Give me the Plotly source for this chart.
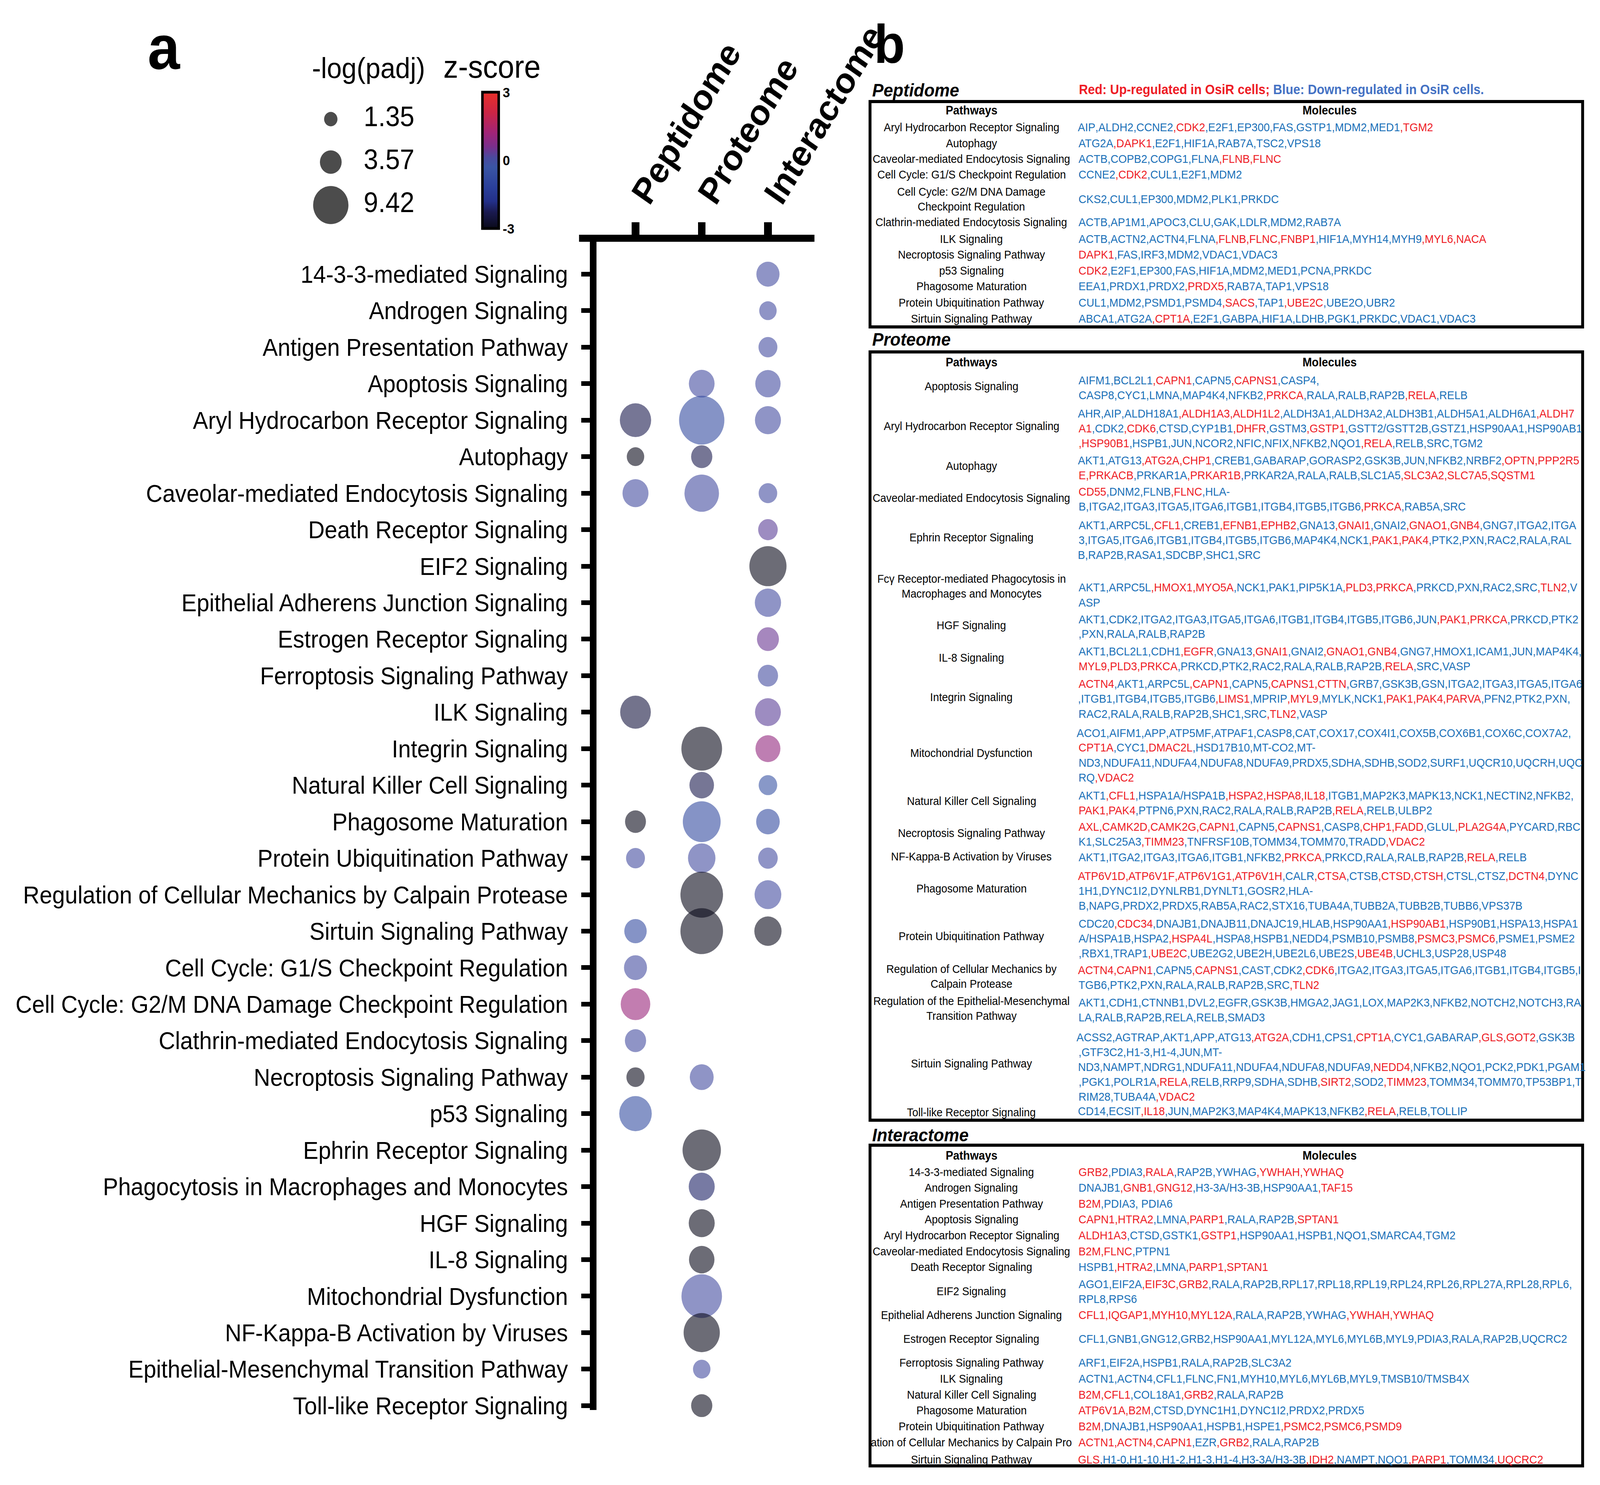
import plotly.graph_objects as go

W, H = 4421, 3802
FONT = "Liberation Sans, Arial, Helvetica, sans-serif"
RED, BLUE, LEGBLUE = "#EE1C25", "#1A70B8", "#4472C4"

# ------------------------------------------------------------------ panel a data
pathways = [
    "14-3-3-mediated Signaling",
    "Androgen Signaling",
    "Antigen Presentation Pathway",
    "Apoptosis Signaling",
    "Aryl Hydrocarbon Receptor Signaling",
    "Autophagy",
    "Caveolar-mediated Endocytosis Signaling",
    "Death Receptor Signaling",
    "EIF2 Signaling",
    "Epithelial Adherens Junction Signaling",
    "Estrogen Receptor Signaling",
    "Ferroptosis Signaling Pathway",
    "ILK Signaling",
    "Integrin Signaling",
    "Natural Killer Cell Signaling",
    "Phagosome Maturation",
    "Protein Ubiquitination Pathway",
    "Regulation of Cellular Mechanics by Calpain Protease",
    "Sirtuin Signaling Pathway",
    "Cell Cycle: G1/S Checkpoint Regulation",
    "Cell Cycle: G2/M DNA Damage Checkpoint Regulation",
    "Clathrin-mediated Endocytosis Signaling",
    "Necroptosis Signaling Pathway",
    "p53 Signaling",
    "Ephrin Receptor Signaling",
    "Phagocytosis in Macrophages and Monocytes",
    "HGF Signaling",
    "IL-8 Signaling",
    "Mitochondrial Dysfunction",
    "NF-Kappa-B Activation by Viruses",
    "Epithelial-Mesenchymal Transition Pathway",
    "Toll-like Receptor Signaling",
]
omics = ["Peptidome", "Proteome", "Interactome"]
N = None
pep_logp = [N, N, N, N, 7.4, 2.3, 5.1, N, N, N, N, N, 7.1, N, N, 3.3, 2.7, N, 3.8, 4.0,
            6.6, 3.4, 2.5, 8.0, N, N, N, N, N, N, N, N]
pep_z = [N, N, N, N, -2.3, -3, 0, N, N, N, N, N, -2.5, N, N, -3, 0, N, -0.7, 0,
         1.1, 0, -3, -0.6, N, N, N, N, N, N, N, N]
prot_logp = [N, N, N, 5.0, 15.5, 3.4, 9.0, N, N, N, N, N, N, 12.5, 4.55, 10.8, 5.7, 13.7, 13.7, N,
             N, N, 4.3, N, 11.1, 5.1, 5.1, 4.9, 12.4, 9.9, 2.3, 3.4]
prot_z = [N, N, N, 0, -0.7, -2.3, 0, N, N, N, N, N, N, -3, -2.3, -0.7, 0, -3, -3, N,
          N, N, 0, N, -3, -2.1, -3, -3, 0, -3, 0, -3]
int_logp = [4.05, 2.3, 2.7, 4.85, 5.1, N, 2.6, 2.9, 10.4, 5.2, 3.65, 3.1, 5.05, 4.7, 2.6, 4.2,
            2.9, 5.4, 5.6, N, N, N, N, N, N, N, N, N, N, N, N, N]
int_z = [0, 0, 0, 0, 0, N, 0, 0.3, -3, 0, 0.45, 0, 0.3, 1.0, -0.4, -0.7,
         0, 0, -3, N, N, N, N, N, N, N, N, N, N, N, N, N]

legend_vals = [1.35, 3.57, 9.42]
legend_labels = ["1.35", "3.57", "9.42"]
cbar_ticks = [-3, 0, 3]

# ------------------------------------------------------------------ panel b data
pep_paths = [
    "Aryl Hydrocarbon Receptor Signaling", "Autophagy",
    "Caveolar-mediated Endocytosis Signaling", "Cell Cycle: G1/S Checkpoint Regulation",
    "Cell Cycle: G2/M DNA Damage\nCheckpoint Regulation",
    "Clathrin-mediated Endocytosis Signaling", "ILK Signaling",
    "Necroptosis Signaling Pathway", "p53 Signaling", "Phagosome Maturation",
    "Protein Ubiquitination Pathway", "Sirtuin Signaling Pathway",
]
pep_mols = [
    ["AIP,ALDH2,CCNE2,*CDK2,E2F1,EP300,FAS,GSTP1,MDM2,MED1,*TGM2"],
    ["ATG2A,*DAPK1,E2F1,HIF1A,RAB7A,TSC2,VPS18"],
    ["ACTB,COPB2,COPG1,FLNA,*FLNB,*FLNC"],
    ["CCNE2,*CDK2,CUL1,E2F1,MDM2"],
    ["CKS2,CUL1,EP300,MDM2,PLK1,PRKDC"],
    ["ACTB,AP1M1,APOC3,CLU,GAK,LDLR,MDM2,RAB7A"],
    ["ACTB,ACTN2,ACTN4,FLNA,*FLNB,*FLNC,*FNBP1,HIF1A,MYH14,MYH9,*MYL6,*NACA"],
    ["*DAPK1,FAS,IRF3,MDM2,VDAC1,VDAC3"],
    ["*CDK2,E2F1,EP300,FAS,HIF1A,MDM2,MED1,PCNA,PRKDC"],
    ["EEA1,PRDX1,PRDX2,*PRDX5,RAB7A,TAP1,VPS18"],
    ["CUL1,MDM2,PSMD1,PSMD4,*SACS,TAP1,*UBE2C,UBE2O,UBR2"],
    ["ABCA1,ATG2A,*CPT1A,E2F1,GABPA,HIF1A,LDHB,PGK1,PRKDC,VDAC1,VDAC3"],
]
prot_paths = [
    "Apoptosis Signaling", "Aryl Hydrocarbon Receptor Signaling", "Autophagy",
    "Caveolar-mediated Endocytosis Signaling", "Ephrin Receptor Signaling",
    "Fcγ Receptor-mediated Phagocytosis in\nMacrophages and Monocytes",
    "HGF Signaling", "IL-8 Signaling", "Integrin Signaling", "Mitochondrial Dysfunction",
    "Natural Killer Cell Signaling", "Necroptosis Signaling Pathway",
    "NF-Kappa-B Activation by Viruses", "Phagosome Maturation",
    "Protein Ubiquitination Pathway", "Regulation of Cellular Mechanics by\nCalpain Protease",
    "Regulation of the Epithelial-Mesenchymal\nTransition Pathway",
    "Sirtuin Signaling Pathway", "Toll-like Receptor Signaling",
]
prot_mols = [
    ["AIFM1,BCL2L1,*CAPN1,CAPN5,*CAPNS1,CASP4,",
     "CASP8,CYC1,LMNA,MAP4K4,NFKB2,*PRKCA,RALA,RALB,RAP2B,*RELA,RELB"],
    ["AHR,AIP,ALDH18A1,*ALDH1A3,*ALDH1L2,ALDH3A1,ALDH3A2,ALDH3B1,ALDH5A1,ALDH6A1,*ALDH7",
     "*A1,CDK2,*CDK6,CTSD,CYP1B1,*DHFR,GSTM3,*GSTP1,GSTT2/GSTT2B,GSTZ1,HSP90AA1,HSP90AB1",
     ",*HSP90B1,HSPB1,JUN,NCOR2,NFIC,NFIX,NFKB2,NQO1,*RELA,RELB,SRC,TGM2"],
    ["AKT1,ATG13,*ATG2A,*CHP1,CREB1,GABARAP,GORASP2,GSK3B,JUN,NFKB2,NRBF2,*OPTN,*PPP2R5",
     "*E,*PRKACB,PRKAR1A,*PRKAR1B,PRKAR2A,RALA,RALB,SLC1A5,*SLC3A2,*SLC7A5,*SQSTM1"],
    ["*CD55,DNM2,FLNB,*FLNC,HLA-",
     "B,ITGA2,ITGA3,ITGA5,ITGA6,ITGB1,ITGB4,ITGB5,ITGB6,*PRKCA,RAB5A,SRC"],
    ["AKT1,ARPC5L,*CFL1,CREB1,*EFNB1,*EPHB2,GNA13,*GNAI1,GNAI2,*GNAO1,*GNB4,GNG7,ITGA2,ITGA",
     "3,ITGA5,ITGA6,ITGB1,ITGB4,ITGB5,ITGB6,MAP4K4,NCK1,*PAK1,*PAK4,PTK2,PXN,RAC2,RALA,RAL",
     "B,RAP2B,RASA1,SDCBP,SHC1,SRC"],
    ["AKT1,ARPC5L,*HMOX1,*MYO5A,NCK1,PAK1,PIP5K1A,*PLD3,*PRKCA,PRKCD,PXN,RAC2,SRC,*TLN2,V",
     "ASP"],
    ["AKT1,CDK2,ITGA2,ITGA3,ITGA5,ITGA6,ITGB1,ITGB4,ITGB5,ITGB6,JUN,*PAK1,*PRKCA,PRKCD,PTK2",
     ",PXN,RALA,RALB,RAP2B"],
    ["AKT1,BCL2L1,CDH1,*EGFR,GNA13,*GNAI1,GNAI2,*GNAO1,*GNB4,GNG7,HMOX1,ICAM1,JUN,MAP4K4,",
     "*MYL9,*PLD3,*PRKCA,PRKCD,PTK2,RAC2,RALA,RALB,RAP2B,*RELA,SRC,VASP"],
    ["*ACTN4,AKT1,ARPC5L,*CAPN1,CAPN5,*CAPNS1,*CTTN,GRB7,GSK3B,GSN,ITGA2,ITGA3,ITGA5,ITGA6",
     ",ITGB1,ITGB4,ITGB5,ITGB6,*LIMS1,MPRIP,*MYL9,MYLK,NCK1,*PAK1,*PAK4,*PARVA,PFN2,PTK2,PXN,",
     "RAC2,RALA,RALB,RAP2B,SHC1,SRC,*TLN2,VASP"],
    ["ACO1,AIFM1,APP,ATP5MF,ATPAF1,CASP8,CAT,COX17,COX4I1,COX5B,COX6B1,COX6C,COX7A2,",
     "*CPT1A,CYC1,*DMAC2L,HSD17B10,MT-CO2,MT-",
     "ND3,NDUFA11,NDUFA4,NDUFA8,NDUFA9,PRDX5,SDHA,SDHB,SOD2,SURF1,UQCR10,UQCRH,UQC",
     "RQ,*VDAC2"],
    ["AKT1,*CFL1,HSPA1A/HSPA1B,*HSPA2,*HSPA8,*IL18,ITGB1,MAP2K3,MAPK13,NCK1,NECTIN2,NFKB2,",
     "*PAK1,*PAK4,PTPN6,PXN,RAC2,RALA,RALB,RAP2B,*RELA,RELB,ULBP2"],
    ["*AXL,*CAMK2D,*CAMK2G,*CAPN1,CAPN5,*CAPNS1,CASP8,*CHP1,*FADD,GLUL,*PLA2G4A,PYCARD,RBC",
     "K1,SLC25A3,*TIMM23,TNFRSF10B,TOMM34,TOMM70,TRADD,*VDAC2"],
    ["AKT1,ITGA2,ITGA3,ITGA6,ITGB1,NFKB2,*PRKCA,PRKCD,RALA,RALB,RAP2B,*RELA,RELB"],
    ["*ATP6V1D,*ATP6V1F,*ATP6V1G1,*ATP6V1H,CALR,*CTSA,CTSB,*CTSD,*CTSH,CTSL,CTSZ,*DCTN4,DYNC",
     "1H1,DYNC1I2,DYNLRB1,DYNLT1,GOSR2,HLA-",
     "B,NAPG,PRDX2,PRDX5,RAB5A,RAC2,STX16,TUBA4A,TUBB2A,TUBB2B,TUBB6,VPS37B"],
    ["CDC20,*CDC34,DNAJB1,DNAJB11,DNAJC19,HLAB,HSP90AA1,*HSP90AB1,HSP90B1,HSPA13,HSPA1",
     "A/HSPA1B,HSPA2,*HSPA4L,HSPA8,HSPB1,NEDD4,PSMB10,PSMB8,*PSMC3,*PSMC6,PSME1,PSME2",
     ",RBX1,TRAP1,*UBE2C,UBE2G2,UBE2H,UBE2L6,UBE2S,*UBE4B,UCHL3,USP28,USP48"],
    ["*ACTN4,*CAPN1,CAPN5,*CAPNS1,CAST,CDK2,*CDK6,ITGA2,ITGA3,ITGA5,ITGA6,ITGB1,ITGB4,ITGB5,I",
     "TGB6,PTK2,PXN,RALA,RALB,RAP2B,SRC,*TLN2"],
    ["AKT1,CDH1,CTNNB1,DVL2,EGFR,GSK3B,HMGA2,JAG1,LOX,MAP2K3,NFKB2,NOTCH2,NOTCH3,RA",
     "LA,RALB,RAP2B,RELA,RELB,SMAD3"],
    ["ACSS2,AGTRAP,AKT1,APP,ATG13,*ATG2A,CDH1,CPS1,*CPT1A,CYC1,GABARAP,*GLS,*GOT2,GSK3B",
     ",GTF3C2,H1-3,H1-4,JUN,MT-",
     "ND3,NAMPT,NDRG1,NDUFA11,NDUFA4,NDUFA8,NDUFA9,*NEDD4,NFKB2,NQO1,PCK2,PDK1,PGAM1",
     ",PGK1,POLR1A,*RELA,RELB,RRP9,SDHA,SDHB,*SIRT2,SOD2,*TIMM23,TOMM34,TOMM70,TP53BP1,T",
     "RIM28,TUBA4A,*VDAC2"],
    ["CD14,ECSIT,*IL18,JUN,MAP2K3,MAP4K4,MAPK13,NFKB2,*RELA,RELB,TOLLIP"],
]
int_paths = [
    "14-3-3-mediated Signaling", "Androgen Signaling", "Antigen Presentation Pathway",
    "Apoptosis Signaling", "Aryl Hydrocarbon Receptor Signaling",
    "Caveolar-mediated Endocytosis Signaling", "Death Receptor Signaling", "EIF2 Signaling",
    "Epithelial Adherens Junction Signaling", "Estrogen Receptor Signaling",
    "Ferroptosis Signaling Pathway", "ILK Signaling", "Natural Killer Cell Signaling",
    "Phagosome Maturation", "Protein Ubiquitination Pathway",
    "ation of Cellular Mechanics by Calpain Pro", "Sirtuin Signaling Pathway",
]
int_mols = [
    ["*GRB2,PDIA3,*RALA,RAP2B,YWHAG,*YWHAH,*YWHAQ"],
    ["DNAJB1,*GNB1,*GNG12,H3-3A/H3-3B,HSP90AA1,*TAF15"],
    ["*B2M,PDIA3, PDIA6"],
    ["*CAPN1,*HTRA2,LMNA,*PARP1,RALA,RAP2B,*SPTAN1"],
    ["*ALDH1A3,CTSD,GSTK1,*GSTP1,HSP90AA1,HSPB1,NQO1,SMARCA4,TGM2"],
    ["*B2M,*FLNC,PTPN1"],
    ["HSPB1,*HTRA2,LMNA,*PARP1,*SPTAN1"],
    ["AGO1,EIF2A,*EIF3C,*GRB2,RALA,RAP2B,RPL17,RPL18,RPL19,RPL24,RPL26,RPL27A,RPL28,RPL6,",
     "RPL8,RPS6"],
    ["*CFL1,*IQGAP1,*MYH10,*MYL12A,RALA,RAP2B,YWHAG,*YWHAH,*YWHAQ"],
    ["CFL1,GNB1,GNG12,GRB2,HSP90AA1,MYL12A,MYL6,MYL6B,MYL9,PDIA3,RALA,RAP2B,UQCRC2"],
    ["ARF1,EIF2A,HSPB1,RALA,RAP2B,SLC3A2"],
    ["ACTN1,ACTN4,CFL1,FLNC,FN1,MYH10,MYL6,MYL6B,MYL9,TMSB10/TMSB4X"],
    ["*B2M,*CFL1,COL18A1,*GRB2,RALA,RAP2B"],
    ["*ATP6V1A,*B2M,CTSD,DYNC1H1,DYNC1I2,PRDX2,PRDX5"],
    ["*B2M,DNAJB1,HSP90AA1,HSPB1,HSPE1,*PSMC2,*PSMC6,*PSMD9"],
    ["*ACTN1,*ACTN4,*CAPN1,EZR,*GRB2,RALA,RAP2B"],
    ["*GLS,H1-0,H1-10,H1-2,H1-3,H1-4,H3-3A/H3-3B,*IDH2,NAMPT,NQO1,*PARP1,TOMM34,*UQCRC2"],
]

# ------------------------------------------------------------------ layout positions (pixels)
pep_label_y = [325.5, 366, 407, 447, 510, 569, 611, 651, 692, 733, 774, 816]
pep_mol_y0 = [325.5, 366, 407, 447, 509, 569, 611, 651, 692, 733, 774, 816]
prot_label_y = [989, 1091, 1192, 1274, 1376, 1500, 1600, 1683, 1784, 1927, 2050, 2132,
                2192, 2274, 2396, 2499, 2581, 2722, 2847]
prot_mol_y0 = [973.5, 1058, 1178, 1259, 1344, 1504, 1585, 1667, 1751, 1876, 2036, 2116,
               2194, 2242, 2364, 2483.5, 2566, 2655, 2844]
int_label_y = [3000, 3040, 3081, 3121, 3162, 3203, 3243, 3305, 3366.5, 3427.5, 3488.6,
               3529, 3570, 3610, 3651, 3692, 3736]
int_mol_y0 = [3000, 3040, 3081, 3121, 3162, 3203, 3243, 3287, 3366.5, 3427.5, 3488.6,
              3529, 3570, 3610, 3651, 3692, 3736]
LINE = 38


def X(px):
    return px / W


def Y(py):
    return 1 - py / H


fig = go.Figure()

# ------------------------------------------------------------------ bubbles
xs, ys, ss, cs = [], [], [], []
for om, lp, zz in zip(omics, [pep_logp, prot_logp, int_logp], [pep_z, prot_z, int_z]):
    for p, v, z in zip(pathways, lp, zz):
        if v is not None:
            xs.append(om)
            ys.append(p)
            ss.append(v)
            cs.append(z)

SIZEREF = 2 / 31.8 ** 2
colorscale = [
    [0.0, "#0a0a1a"], [0.12, "#1a1a50"], [0.2, "#23308a"], [0.3, "#2a3f9a"],
    [0.45, "#3a55a5"], [0.52, "#4a4a9e"], [0.6, "#7a2f8c"], [0.7, "#a02478"],
    [0.85, "#cc2545"], [1.0, "#e8302a"],
]

fig.add_trace(go.Scatter(
    x=xs, y=ys, mode="markers", cliponaxis=False, showlegend=False, hoverinfo="skip",
    marker=dict(
        size=ss, sizemode="area", sizeref=SIZEREF, color=cs, cmin=-3, cmax=3,
        colorscale=colorscale, opacity=0.6, line=dict(width=0),
        colorbar=dict(
            x=X(1333), xanchor="left", xpad=0, y=Y(236), yanchor="top", ypad=0,
            len=349, lenmode="pixels", thickness=45, thicknessmode="pixels",
            outlinewidth=7, outlinecolor="black", tickvals=cbar_ticks,
            ticktext=[str(t) for t in cbar_ticks], ticks="",
            tickfont=dict(family=FONT, size=36, color="black", weight="bold"),
        ),
    ),
))

# size legend
fig.add_trace(go.Scatter(
    x=[0] * len(legend_vals), y=legend_labels, xaxis="x2", yaxis="y2", mode="markers",
    cliponaxis=False, showlegend=False, hoverinfo="skip",
    marker=dict(size=legend_vals, sizemode="area", sizeref=SIZEREF, color="black",
                line=dict(width=0)),
))
fig.add_trace(go.Scatter(
    x=[1] * len(legend_vals), y=legend_labels, xaxis="x2", yaxis="y2", mode="text",
    text=legend_labels, textposition="middle right", cliponaxis=False, showlegend=False,
    hoverinfo="skip", textfont=dict(family=FONT, size=72, color="black"),
))

annotations = []
shapes = []


def ann(text, x, y, size, xanchor="center", color="black", bold=False, italic=False):
    if bold:
        text = f"<b>{text}</b>"
    if italic:
        text = f"<i>{text}</i>"
    annotations.append(dict(
        text=text, x=X(x), y=Y(y), xref="paper", yref="paper", xanchor=xanchor,
        yanchor="middle", showarrow=False, align="center",
        font=dict(family=FONT, size=size, color=color)))


def colour_line(line):
    out = []
    for i, part in enumerate(line.split(",")):
        red = part.startswith("*")
        name = part[1:] if red else part
        seg = ("," if i > 0 else "") + name
        if seg:
            out.append(f'<span style="color:{RED if red else BLUE}">{seg}</span>')
    return "".join(out)


# panel a text
ann("a", 453, 120, 160, bold=True)
ann("-log(padj)", 1018, 174, 74)
ann("z-score", 1359, 170, 82)

# top axis line extension to the left (Prism style)
shapes.append(dict(type="line", xref="paper", yref="paper", x0=X(1600), x1=X(1660),
                   y0=Y(610), y1=Y(610), line=dict(color="black", width=18)))

# ------------------------------------------------------------------ panel b
ann("b", 2458, 113, 140, bold=True)
annotations.append(dict(
    text=(f'<b><span style="color:{RED}">Red: Up-regulated in OsiR cells;</span> '
          f'<span style="color:{LEGBLUE}">Blue: Down-regulated in OsiR cells.</span></b>'),
    x=X(2979), y=Y(229), xref="paper", yref="paper", xanchor="left", yanchor="middle",
    showarrow=False, font=dict(family=FONT, size=34.5)))

BOX_L, BOX_R = 2404, 4373
PATH_X, MOL_HDR_X, MOL_X = 2684, 3674, 2978


def build_table(title, title_y, top, bottom, header_y, labels, label_y, mols, mol_y0):
    ann(title, 2408, title_y, 47, xanchor="left", bold=True, italic=True)
    shapes.append(dict(type="rect", xref="paper", yref="paper", x0=X(BOX_L), x1=X(BOX_R),
                       y0=Y(bottom), y1=Y(top), line=dict(color="black", width=8)))
    ann("Pathways", PATH_X, header_y, 31, bold=True)
    ann("Molecules", MOL_HDR_X, header_y, 31, bold=True)
    for lab, ly, lines, y0 in zip(labels, label_y, mols, mol_y0):
        ann(lab.replace("\n", "<br>"), PATH_X, ly, 29.5)
        for k, line in enumerate(lines):
            ann(colour_line(line), MOL_X, y0 + k * LINE, 30, xanchor="left")


build_table("Peptidome", 231, 260, 837, 283, pep_paths, pep_label_y, pep_mols, pep_mol_y0)
build_table("Proteome", 868, 901, 2868, 927, prot_paths, prot_label_y, prot_mols, prot_mol_y0)
build_table("Interactome", 2905, 2932, 3753, 2958, int_paths, int_label_y, int_mols, int_mol_y0)

fig.update_layout(
    width=W, height=H, autosize=False,
    margin=dict(l=0, r=0, t=0, b=0, pad=0),
    paper_bgcolor="white", plot_bgcolor="white",
    showlegend=False,
    xaxis=dict(
        domain=[X(1648), X(2250)], type="category", categoryorder="array",
        categoryarray=omics, range=[-0.59, 2.70], side="top", anchor="y",
        showline=True, linewidth=18, linecolor="black", ticks="outside", ticklen=32,
        tickwidth=21, tickcolor="black", tickangle=-57, ticklabelstandoff=-18,
        tickfont=dict(family=FONT, size=92, color="black", weight="bold"),
        showgrid=False, zeroline=False, automargin=False, fixedrange=True,
    ),
    yaxis=dict(
        domain=[Y(3610), Y(619)], type="category", categoryorder="array",
        categoryarray=pathways, range=[31.12, -0.888], anchor="x",
        showline=True, linewidth=18, linecolor="black", ticks="outside", ticklen=24,
        tickwidth=12, tickcolor="black", ticklabelstandoff=24,
        tickfont=dict(family=FONT, size=63, color="black"),
        showgrid=False, zeroline=False, automargin=False, fixedrange=True,
    ),
    xaxis2=dict(domain=[X(880), X(1100)], range=[-0.3736, 2.044], anchor="y2",
                visible=False, fixedrange=True),
    yaxis2=dict(domain=[Y(580), Y(250)], type="category", categoryorder="array",
                categoryarray=legend_labels, range=[2.5, -0.5], anchor="x2",
                visible=False, fixedrange=True),
    annotations=annotations,
    shapes=shapes,
)

# Fit the fixed-size figure to whatever viewport the browser actually provides,
# so the picture keeps the reference's proportions edge to edge.
FIT_JS = """
(function(){
  var gd = document.getElementById('{plot_id}');
  document.documentElement.style.margin = '0';
  document.documentElement.style.overflow = 'hidden';
  document.body.style.margin = '0';
  document.body.style.overflow = 'hidden';
  function fit(){
    var sx = window.innerWidth / %d, sy = window.innerHeight / %d;
    gd.style.transformOrigin = '0 0';
    gd.style.transform = 'scale(' + sx + ',' + sy + ')';
  }
  fit();
  window.addEventListener('resize', fit);
})();
""" % (W, H)

fig.write_html("out.html", config={"displayModeBar": False}, post_script=FIT_JS)
